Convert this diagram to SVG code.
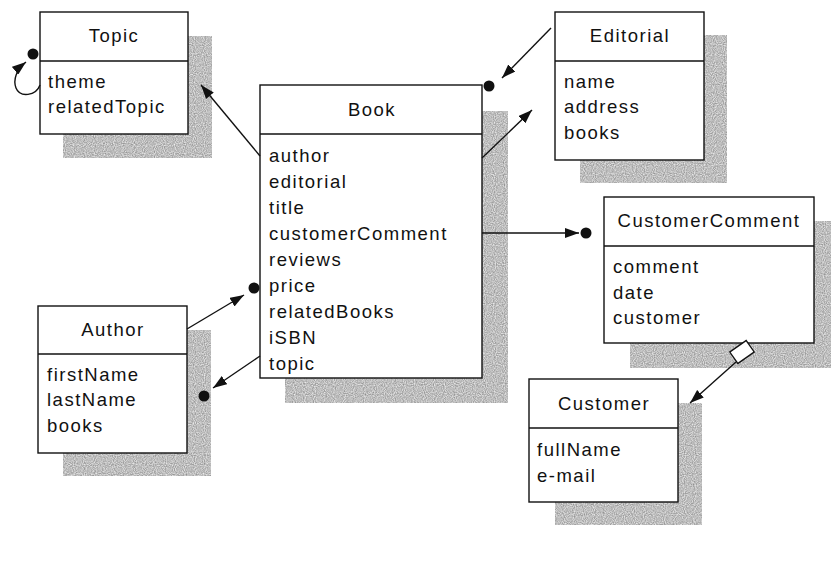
<svg xmlns="http://www.w3.org/2000/svg" width="831" height="561" viewBox="0 0 831 561">
  <style>
    .shadow { fill: #c0c0c0; filter: url(#grain); }
    .box { fill: #ffffff; stroke: #111; stroke-width: 1.4; }
    .sep { stroke: #111; stroke-width: 1.3; }
    .t { font-family: "Liberation Sans", Arial, sans-serif; font-size: 18.5px; letter-spacing: 1.5px; fill: #111; }
    .title { text-anchor: middle; }
    .edge { fill: none; stroke: #111; stroke-width: 1.4; }
    .dot { fill: #111; }
  </style>
  <defs>
    <!-- stippled grey used for the drop shadows -->
    <filter id="grain" x="0" y="0" width="100%" height="100%" color-interpolation-filters="sRGB">
      <feTurbulence type="fractalNoise" baseFrequency="0.9" numOctaves="1" seed="3" result="noise"/>
      <feColorMatrix in="noise" type="matrix" values="0.55 0 0 0 0.47  0.55 0 0 0 0.47  0.55 0 0 0 0.47  0 0 0 0 1" result="grey"/>
      <feComposite in="grey" in2="SourceGraphic" operator="in"/>
    </filter>
    <marker id="arrow" viewBox="0 0 14 10" refX="14" refY="5" markerWidth="14" markerHeight="10" markerUnits="userSpaceOnUse" orient="auto">
      <path d="M0,0 L14,5 L0,10 z" fill="#111"/>
    </marker>
  </defs>

  <rect width="831" height="561" fill="#ffffff"/>

  <!-- Topic -->
  <g id="topic">
    <rect class="shadow" x="63" y="36" width="149" height="122"/>
    <rect class="box" x="40" y="12" width="148" height="122"/>
    <line class="sep" x1="40" y1="61" x2="188" y2="61"/>
    <text class="t title" x="114" y="42">Topic</text>
    <text class="t" x="48" y="88">theme</text>
    <text class="t" x="48" y="113">relatedTopic</text>
  </g>

  <!-- Editorial -->
  <g id="editorial">
    <rect class="shadow" x="580" y="35" width="147" height="148"/>
    <rect class="box" x="555" y="12" width="149" height="148"/>
    <line class="sep" x1="555" y1="61" x2="704" y2="61"/>
    <text class="t title" x="630" y="42">Editorial</text>
    <text class="t" x="564" y="88">name</text>
    <text class="t" x="564" y="113">address</text>
    <text class="t" x="564" y="139">books</text>
  </g>

  <!-- Book -->
  <g id="book">
    <rect class="shadow" x="285" y="111" width="223" height="292"/>
    <rect class="box" x="260" y="85" width="222" height="293"/>
    <line class="sep" x1="260" y1="134" x2="482" y2="134"/>
    <text class="t title" x="372" y="116">Book</text>
    <text class="t" x="269" y="162">author</text>
    <text class="t" x="269" y="188">editorial</text>
    <text class="t" x="269" y="214">title</text>
    <text class="t" x="269" y="240">customerComment</text>
    <text class="t" x="269" y="266">reviews</text>
    <text class="t" x="269" y="292">price</text>
    <text class="t" x="269" y="318">relatedBooks</text>
    <text class="t" x="269" y="344">iSBN</text>
    <text class="t" x="269" y="370">topic</text>
  </g>

  <!-- CustomerComment -->
  <g id="customerComment">
    <rect class="shadow" x="630" y="221" width="210" height="147"/>
    <rect class="box" x="604" y="197" width="210" height="146"/>
    <line class="sep" x1="604" y1="246" x2="814" y2="246"/>
    <text class="t title" x="709" y="227">CustomerComment</text>
    <text class="t" x="613" y="273">comment</text>
    <text class="t" x="613" y="299">date</text>
    <text class="t" x="613" y="324">customer</text>
  </g>

  <!-- Author -->
  <g id="author">
    <rect class="shadow" x="63" y="330" width="148" height="146"/>
    <rect class="box" x="38" y="306" width="149" height="147"/>
    <line class="sep" x1="38" y1="354" x2="187" y2="354"/>
    <text class="t title" x="113" y="336">Author</text>
    <text class="t" x="47" y="381">firstName</text>
    <text class="t" x="47" y="406">lastName</text>
    <text class="t" x="47" y="432">books</text>
  </g>

  <!-- Customer -->
  <g id="customer">
    <rect class="shadow" x="555" y="403" width="147" height="122"/>
    <rect class="box" x="529" y="379" width="149" height="123"/>
    <line class="sep" x1="529" y1="428" x2="678" y2="428"/>
    <text class="t title" x="604" y="410">Customer</text>
    <text class="t" x="537" y="456">fullName</text>
    <text class="t" x="537" y="482">e-mail</text>
  </g>

  <!-- Connectors -->
  <g id="connectors">
    <!-- Topic self reference -->
    <circle class="dot" cx="33" cy="54" r="5.5"/>
    <path class="edge" d="M40,85 C36,96 20,98 16,88 C13,80 16,70 26,62" marker-end="url(#arrow)"/>

    <!-- Book to Topic -->
    <line class="edge" x1="260" y1="156" x2="201" y2="85" marker-end="url(#arrow)"/>

    <!-- Book to Editorial -->
    <line class="edge" x1="482" y1="158" x2="532" y2="110" marker-end="url(#arrow)"/>

    <!-- Editorial to Book -->
    <line class="edge" x1="551" y1="28" x2="502" y2="78" marker-end="url(#arrow)"/>
    <circle class="dot" cx="489" cy="86" r="5.5"/>

    <!-- Book to CustomerComment -->
    <line class="edge" x1="482" y1="233" x2="579" y2="233" marker-end="url(#arrow)"/>
    <circle class="dot" cx="586" cy="233" r="5.5"/>

    <!-- Author to Book -->
    <line class="edge" x1="187" y1="329" x2="244" y2="295" marker-end="url(#arrow)"/>
    <circle class="dot" cx="254" cy="288" r="5.5"/>

    <!-- Book to Author -->
    <line class="edge" x1="260" y1="356" x2="213" y2="388" marker-end="url(#arrow)"/>
    <circle class="dot" cx="204" cy="396" r="5.5"/>

    <!-- CustomerComment to Customer -->
    <line class="edge" x1="736" y1="362" x2="690" y2="403" marker-end="url(#arrow)"/>
    <rect x="-10" y="-7" width="20" height="14" fill="#ffffff" stroke="#111" stroke-width="1.3" transform="translate(742,352) rotate(-35)"/>
  </g>
</svg>
